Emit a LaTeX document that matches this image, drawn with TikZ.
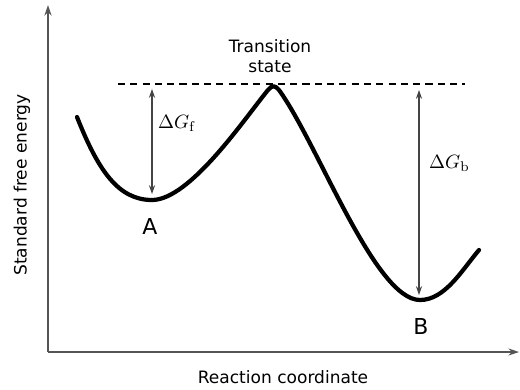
\documentclass[tikz,border=0pt]{standalone}
\usepackage{amsmath}
\usepackage[no-math]{fontspec}
\setmainfont{DejaVu Sans}
\usetikzlibrary{arrows.meta, positioning, calc}
\definecolor{axisgray}{RGB}{85, 85, 85}

\begin{document}
\begin{tikzpicture}[
        x=0.02cm, y=-0.02cm,
        axis/.style={-{Stealth[length=6pt, width=4pt]}, line width=1.1pt, draw=axisgray},
        gap/.style={{Stealth[length=5pt, width=3.5pt]}-{Stealth[length=5pt, width=3.5pt]}, line width=0.7pt, draw=axisgray!80!black},
        curve/.style={line width=2.4pt, black, line cap=round, line join=round},
        lbl/.style={font=\fontsize{9.7}{11.5}\selectfont, inner sep=1pt, align=center},
        state/.style={font=\fontsize{12.5}{14}\selectfont, inner sep=1pt},
        mlbl/.style={font=\fontsize{11}{13}\selectfont, inner sep=1pt}
    ]
        \useasboundingbox (0,0) rectangle (520,389);

        % Points on the curve
        \coordinate (start) at (77,117);
        \coordinate (A) at (152,200);
        \coordinate (B) at (420,300);
        \coordinate (stop) at (479,250);
        \coordinate (origin) at (48,352);
        \coordinate (ytop) at (48,5);
        \coordinate (xend) at (519,352);
        \coordinate (dashL) at (118,84);
        \coordinate (dashR) at (465,84);
        \coordinate (topF) at (152,89);
        \coordinate (botF) at (152,194);
        \coordinate (topB) at (419,90);
        \coordinate (botB) at (419,295);

        % Axes
        \draw[axis] (origin) -- (ytop);
        \draw[axis] (origin) -- (xend);
        \draw[dashed, line width=0.7pt, dash pattern=on 4pt off 3pt] (dashL) -- (dashR);

        % Energy profile
        \draw[curve] (start) .. controls (98,170) and (118,200) .. (A)
            .. controls (190,200) and (245,118) .. (268,90)
            .. controls (272,85) and (275,85) .. (279,90)
            .. controls (318,144) and (375,300) .. (B)
            .. controls (445,300) and (462,270) .. (stop);

        % Barriers
        \draw[gap] (topF) -- (botF);
        \draw[gap] (topB) -- (botB);

        % Labels
        \node[mlbl, anchor=west] (dgf) at (156,123) {$\Delta G_{\mathrm{f}}$};
        \node[mlbl, anchor=west] (dgb) at (427,163) {$\Delta G_{\mathrm{b}}$};
        \node[state] (lblA) at (150,226) {A};
        \node[state] (lblB) at (421,326) {B};
        \node[lbl] (ts) at (270,56) {Transition\\state};
        \node[lbl, rotate=90] (ylbl) at (22,185) {Standard free energy};
        \node[lbl] (xlbl) at (283,377) {Reaction coordinate};
    \end{tikzpicture}
\end{document}
